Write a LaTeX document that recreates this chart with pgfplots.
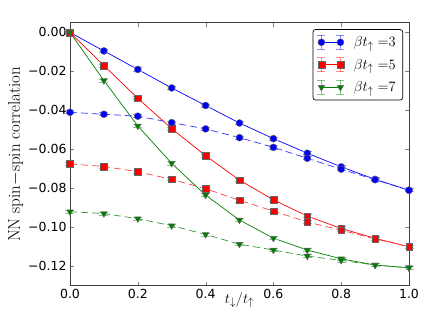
\documentclass[border=0pt]{standalone}
\usepackage{fontspec}
\usepackage{pgfplots}
\pgfplotsset{compat=1.18}
\newfontfamily\dejavu{DejaVu Sans}
\definecolor{mplgreen}{rgb}{0,0.5,0}
\newcommand{\lab}{\fontsize{17}{19}\selectfont}
\newcommand{\xlab}{\fontsize{15.5}{17}\selectfont}
\newcommand{\leg}{\fontsize{15}{17}\selectfont}

\begin{document}
\begin{tikzpicture}
\useasboundingbox (-70pt,-43.3pt) rectangle (366pt,285.7pt);
\begin{axis}[
    at={(0,0)}, anchor=south west,
    width=339pt, height=263pt,
    scale only axis,
    xmin=0, xmax=1,
    ymin=-0.13, ymax=0.005,
    xtick={0,0.2,0.4,0.6,0.8,1.0},
    xticklabels={0.0,0.2,0.4,0.6,0.8,1.0},
    ytick={-0.12,-0.10,-0.08,-0.06,-0.04,-0.02,0.00},
    yticklabels={−0.12,−0.10,−0.08,−0.06,−0.04,−0.02,0.00},
    ticklabel style={font=\dejavu\fontsize{12.5}{13}\selectfont},
    tick align=inside,
    major tick length=4pt,
    minor tick num=0,
    axis line style={black!75, line width=0.8pt},
    xlabel={\xlab $t_\downarrow/t_\uparrow$},
    ylabel={\lab NN spin$-$spin correlation},
    xlabel style={at={(0.5,0)}, yshift=-3pt},
    ylabel style={yshift=-2pt},
    legend style={at={(1,1)}, xshift=-6pt, yshift=-6.5pt, anchor=north east,
        rounded corners=2.5pt, draw=black, line width=0.7pt,
        row sep=7pt, inner xsep=4pt, inner ysep=5pt,
        nodes={inner xsep=3pt}},
    legend cell align=left,
    legend image code/.code={
        \draw[#1,line width=0.8pt,opacity=0.45,no markers] (0pt,-7pt) -- (0pt,7pt);
        \draw[#1,line width=0.8pt,opacity=0.45,no markers] (-4pt,7pt) -- (4pt,7pt);
        \draw[#1,line width=0.8pt,opacity=0.45,no markers] (-4pt,-7pt) -- (4pt,-7pt);
        \draw[#1,line width=0.8pt,opacity=0.45,no markers] (19pt,-7pt) -- (19pt,7pt);
        \draw[#1,line width=0.8pt,opacity=0.45,no markers] (15pt,7pt) -- (23pt,7pt);
        \draw[#1,line width=0.8pt,opacity=0.45,no markers] (15pt,-7pt) -- (23pt,-7pt);
        \draw[#1,mark repeat=1,mark phase=1] plot coordinates {(0pt,0pt) (19pt,0pt)};
    },
    clip=false,
]

% beta t = 3, solid
\addplot[blue, line width=0.7pt, mark=*, mark size=3.5pt,
    mark options={fill=blue, draw=black!60, line width=0.4pt, solid},
    error bars/.cd, y dir=both, y fixed=0.0008,
    error bar style={blue!45, line width=0.8pt},
    error mark options={rotate=90, mark size=4.5pt, blue!45, line width=0.8pt}]
coordinates {
    (0.0, 0.0) (0.1, -0.0095) (0.2, -0.019) (0.3, -0.0285) (0.4, -0.0375)
    (0.5, -0.0465) (0.6, -0.0545) (0.7, -0.062) (0.8, -0.069) (0.9, -0.0754)
    (1.0, -0.081)
};
\addlegendentry{\hspace{6pt}\leg $\beta t_\uparrow\;{=}3$}

% beta t = 5, solid
\addplot[red, line width=0.7pt, mark=square*, mark size=3.3pt,
    mark options={fill=red, draw=black!60, line width=0.4pt, solid},
    error bars/.cd, y dir=both, y fixed=0.0008,
    error bar style={red!45, line width=0.8pt},
    error mark options={rotate=90, mark size=4.5pt, red!45, line width=0.8pt}]
coordinates {
    (0.0, 0.0) (0.1, -0.017) (0.2, -0.0338) (0.3, -0.0494) (0.4, -0.0633)
    (0.5, -0.0758) (0.6, -0.0859) (0.7, -0.0943) (0.8, -0.1006) (0.9, -0.1057)
    (1.0, -0.110)
};
\addlegendentry{\hspace{6pt}\leg $\beta t_\uparrow\;{=}5$}

% beta t = 7, solid
\addplot[mplgreen, line width=0.7pt, mark=triangle*, mark size=3.8pt,
    mark options={rotate=180, fill=mplgreen, draw=black!60, line width=0.4pt, solid},
    error bars/.cd, y dir=both, y fixed=0.0008,
    error bar style={mplgreen!45, line width=0.8pt},
    error mark options={rotate=90, mark size=4.5pt, mplgreen!45, line width=0.8pt}]
coordinates {
    (0.0, 0.0) (0.1, -0.0247) (0.2, -0.048) (0.3, -0.0672) (0.4, -0.0835)
    (0.5, -0.0963) (0.6, -0.1056) (0.7, -0.1117) (0.8, -0.1162) (0.9, -0.1194)
    (1.0, -0.1208)
};
\addlegendentry{\hspace{6pt}\leg $\beta t_\uparrow\;{=}7$}

% dashed series
\addplot[forget plot, blue!80, line width=0.7pt, dash pattern=on 7pt off 4pt,
    mark=*, mark size=3.5pt,
    mark options={fill=blue, draw=black!60, line width=0.4pt, solid},
    error bars/.cd, y dir=both, y fixed=0.0008,
    error bar style={blue!45, line width=0.8pt, solid},
    error mark options={rotate=90, mark size=4.5pt, blue!45, line width=0.8pt, solid}]
coordinates {
    (0.0, -0.041) (0.1, -0.042) (0.2, -0.043) (0.3, -0.0463) (0.4, -0.0495)
    (0.5, -0.054) (0.6, -0.059) (0.7, -0.0646) (0.8, -0.0702) (0.9, -0.0756)
    (1.0, -0.081)
};

\addplot[forget plot, red!75, line width=0.7pt, dash pattern=on 7pt off 4pt,
    mark=square*, mark size=3.3pt,
    mark options={fill=red, draw=black!60, line width=0.4pt, solid},
    error bars/.cd, y dir=both, y fixed=0.0008,
    error bar style={red!45, line width=0.8pt, solid},
    error mark options={rotate=90, mark size=4.5pt, red!45, line width=0.8pt, solid}]
coordinates {
    (0.0, -0.0675) (0.1, -0.0688) (0.2, -0.0715) (0.3, -0.0754) (0.4, -0.0802)
    (0.5, -0.0862) (0.6, -0.0917) (0.7, -0.0973) (0.8, -0.1015) (0.9, -0.106)
    (1.0, -0.110)
};

\addplot[forget plot, mplgreen!80, line width=0.7pt, dash pattern=on 7pt off 4pt,
    mark=triangle*, mark size=3.8pt,
    mark options={rotate=180, fill=mplgreen, draw=black!60, line width=0.4pt, solid},
    error bars/.cd, y dir=both, y fixed=0.0008,
    error bar style={mplgreen!45, line width=0.8pt, solid},
    error mark options={rotate=90, mark size=4.5pt, mplgreen!45, line width=0.8pt, solid}]
coordinates {
    (0.0, -0.092) (0.1, -0.093) (0.2, -0.0956) (0.3, -0.0992) (0.4, -0.1037)
    (0.5, -0.1087) (0.6, -0.1117) (0.7, -0.1148) (0.8, -0.117) (0.9, -0.1194)
    (1.0, -0.1208)
};

\end{axis}
\end{tikzpicture}
\end{document}
